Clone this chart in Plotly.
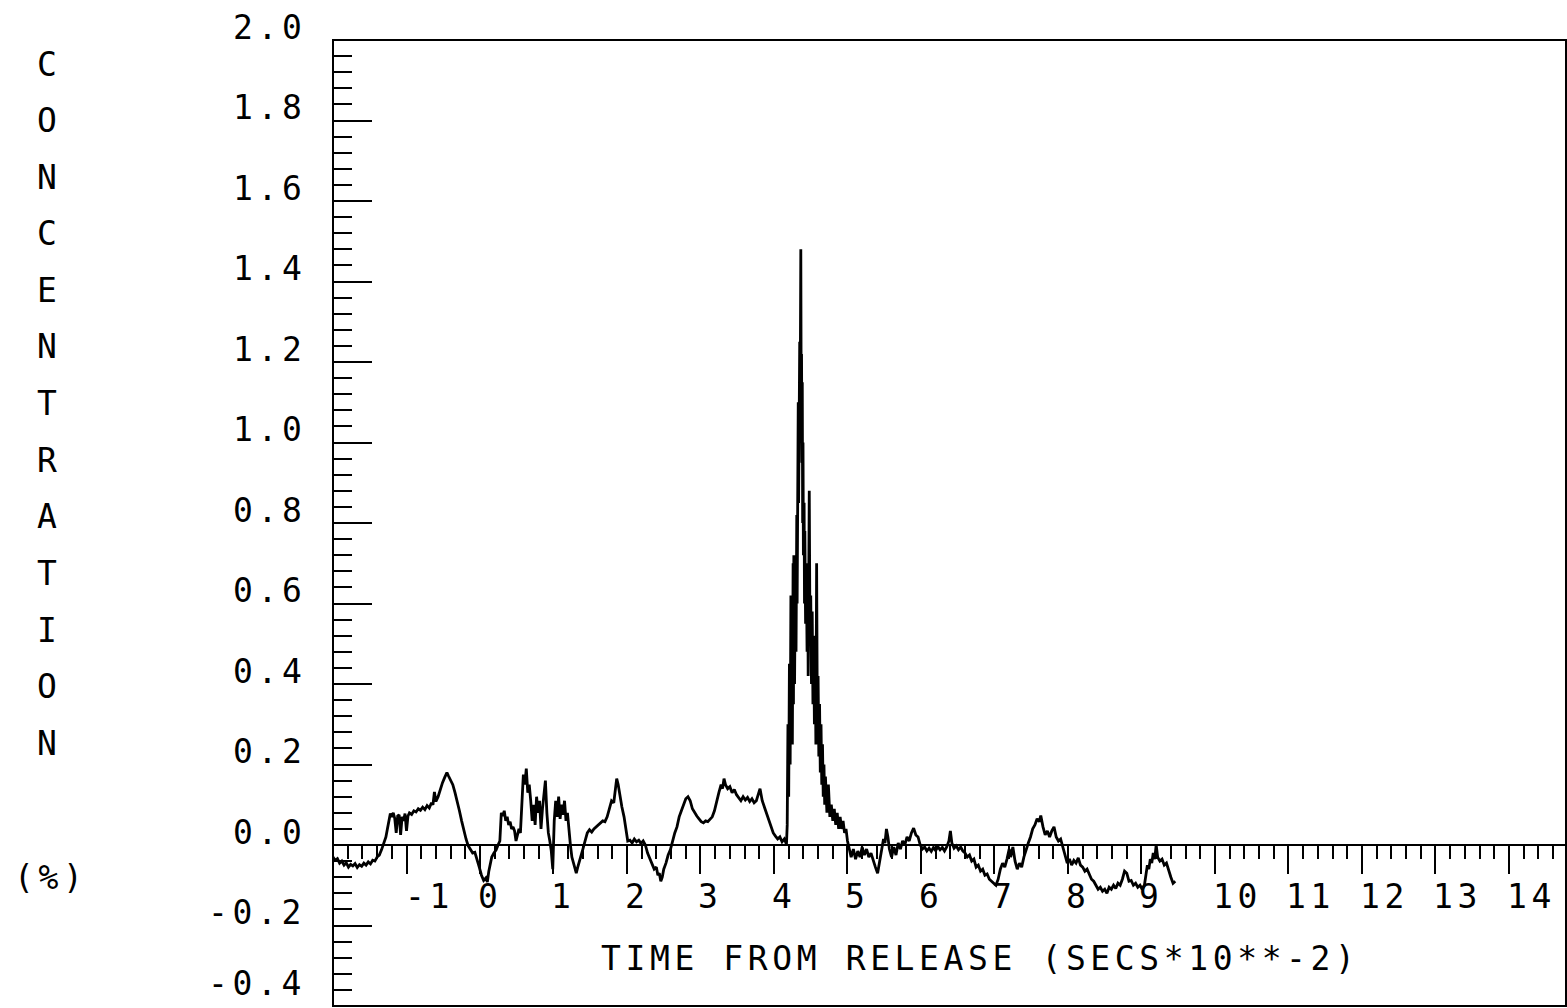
import plotly.graph_objects as go

# Concentration trace: time from release (s * 10**-2) and concentration (%)
time_s = [
    -2.00, -1.97, -1.94, -1.91, -1.88, -1.85, -1.82, -1.79, -1.76, -1.73,
    -1.70, -1.67, -1.64, -1.61, -1.58, -1.55, -1.52, -1.49, -1.46, -1.43,
    -1.40, -1.37, -1.34, -1.31, -1.28, -1.26, -1.24, -1.22, -1.20, -1.18,
    -1.16, -1.14, -1.12, -1.10, -1.08, -1.06, -1.04, -1.02, -1.00, -0.98,
    -0.96, -0.93, -0.90, -0.87, -0.84, -0.81, -0.78, -0.75, -0.72, -0.69,
    -0.66, -0.64, -0.62, -0.60, -0.57, -0.54, -0.51, -0.48, -0.45, -0.43,
    -0.40, -0.37, -0.34, -0.31, -0.28, -0.25, -0.22, -0.19, -0.16, -0.13,
    -0.10, -0.07, -0.04, -0.01, 0.02, 0.05, 0.08, 0.10, 0.12, 0.14,
    0.16, 0.19, 0.22, 0.25, 0.27, 0.29, 0.31, 0.33, 0.35, 0.37,
    0.39, 0.41, 0.43, 0.45, 0.47, 0.49, 0.51, 0.53, 0.55, 0.57,
    0.59, 0.61, 0.63, 0.65, 0.67, 0.69, 0.71, 0.73, 0.75, 0.77,
    0.79, 0.81, 0.83, 0.85, 0.87, 0.89, 0.91, 0.93, 0.95, 0.97,
    0.99, 1.01, 1.03, 1.05, 1.07, 1.09, 1.11, 1.13, 1.15, 1.17,
    1.19, 1.21, 1.23, 1.25, 1.27, 1.29, 1.31, 1.33, 1.35, 1.37,
    1.40, 1.43, 1.46, 1.49, 1.52, 1.55, 1.58, 1.61, 1.64, 1.67,
    1.70, 1.73, 1.76, 1.79, 1.82, 1.84, 1.86, 1.88, 1.90, 1.93,
    1.96, 1.99, 2.01, 2.04, 2.07, 2.10, 2.13, 2.16, 2.19, 2.22,
    2.25, 2.28, 2.31, 2.34, 2.37, 2.40, 2.42, 2.44, 2.46, 2.48,
    2.50, 2.53, 2.56, 2.59, 2.62, 2.65, 2.68, 2.71, 2.74, 2.77,
    2.80, 2.83, 2.86, 2.89, 2.92, 2.95, 2.98, 3.01, 3.04, 3.07,
    3.10, 3.13, 3.16, 3.19, 3.22, 3.25, 3.28, 3.30, 3.32, 3.34,
    3.37, 3.40, 3.43, 3.46, 3.49, 3.52, 3.55, 3.58, 3.61, 3.64,
    3.67, 3.70, 3.73, 3.76, 3.79, 3.81, 3.84, 3.87, 3.90, 3.93,
    3.96, 3.99, 4.02, 4.05, 4.08, 4.11, 4.14, 4.17,
    4.18, 4.19, 4.20, 4.21, 4.22, 4.23, 4.235, 4.24, 4.25, 4.26,
    4.265, 4.27, 4.28, 4.29, 4.30, 4.31, 4.315, 4.32, 4.325, 4.33,
    4.335, 4.34, 4.345, 4.35, 4.355, 4.36, 4.365, 4.37, 4.375, 4.38,
    4.385, 4.39, 4.395, 4.40, 4.41, 4.415, 4.42, 4.43, 4.44, 4.45,
    4.46, 4.465, 4.47, 4.48, 4.49, 4.50, 4.51, 4.52, 4.53, 4.54,
    4.55, 4.56, 4.57, 4.58, 4.59, 4.60, 4.61, 4.62, 4.63, 4.64,
    4.65, 4.66, 4.67, 4.68, 4.69, 4.70, 4.72, 4.74, 4.76, 4.78,
    4.80, 4.82, 4.84, 4.86, 4.88, 4.90, 4.92, 4.94, 4.96, 4.98,
    5.00, 5.02, 5.05, 5.08, 5.11, 5.14, 5.17, 5.20, 5.23, 5.26,
    5.29, 5.32, 5.35, 5.38, 5.41, 5.43, 5.45, 5.47, 5.49, 5.51,
    5.53, 5.55, 5.57, 5.60, 5.63, 5.66, 5.69, 5.72, 5.75, 5.78,
    5.81, 5.84, 5.87, 5.90, 5.93, 5.96, 5.99, 6.02, 6.05, 6.08,
    6.11, 6.14, 6.17, 6.20, 6.23, 6.26, 6.29, 6.32, 6.35, 6.38,
    6.40, 6.42, 6.45, 6.48, 6.51, 6.54, 6.57, 6.60, 6.63, 6.66,
    6.69, 6.72, 6.75, 6.78, 6.81, 6.84, 6.87, 6.90, 6.93, 6.96,
    6.99, 7.02, 7.05, 7.08, 7.11, 7.14, 7.17, 7.20, 7.22, 7.25,
    7.28, 7.31, 7.34, 7.37, 7.40, 7.43, 7.46, 7.49, 7.52, 7.55,
    7.58, 7.61, 7.63, 7.66, 7.69, 7.72, 7.75, 7.78, 7.81, 7.84,
    7.87, 7.90, 7.93, 7.96, 7.99, 8.02, 8.05, 8.08, 8.11, 8.14,
    8.17, 8.20, 8.23, 8.26, 8.29, 8.32, 8.35, 8.38, 8.41, 8.44,
    8.47, 8.50, 8.53, 8.56, 8.59, 8.62, 8.65, 8.68, 8.71, 8.74,
    8.77, 8.80, 8.83, 8.86, 8.89, 8.92, 8.95, 8.98, 9.01, 9.04,
    9.06, 9.08, 9.10, 9.12, 9.14, 9.16, 9.18, 9.20, 9.22, 9.25,
    9.28, 9.31, 9.34, 9.37, 9.40, 9.43, 9.46,
]

conc_pct = [
    -0.030, -0.038, -0.034, -0.045, -0.040, -0.050, -0.044, -0.055, -0.048, -0.052,
    -0.046, -0.056, -0.049, -0.053, -0.045, -0.050, -0.042, -0.047, -0.038, -0.040,
    -0.030, -0.025, -0.012, 0.002, 0.020, 0.040, 0.062, 0.078, 0.070, 0.080,
    0.066, 0.030, 0.072, 0.075, 0.025, 0.070, 0.060, 0.078, 0.035, 0.072,
    0.080, 0.076, 0.085, 0.082, 0.090, 0.086, 0.094, 0.088, 0.098, 0.092,
    0.105, 0.100, 0.132, 0.108, 0.120, 0.140, 0.155, 0.168, 0.180, 0.172,
    0.160, 0.150, 0.130, 0.110, 0.085, 0.060, 0.035, 0.015, -0.002, -0.012,
    -0.020, -0.018, -0.035, -0.055, -0.075, -0.088, -0.082, -0.092, -0.065, -0.045,
    -0.030, -0.020, -0.012, 0.002, 0.010, 0.080, 0.072, 0.085, 0.060, 0.070,
    0.050, 0.058, 0.040, 0.045, 0.035, 0.010, 0.028, 0.040, 0.030, 0.100,
    0.175, 0.150, 0.190, 0.130, 0.150, 0.110, 0.060, 0.100, 0.050, 0.120,
    0.080, 0.110, 0.040, 0.090, 0.130, 0.160, 0.080, 0.030, 0.010, -0.015,
    -0.060, 0.060, 0.110, 0.070, 0.120, 0.065, 0.100, 0.075, 0.110, 0.060,
    0.080, 0.030, 0.000, -0.030, -0.045, -0.060, -0.070, -0.055, -0.040, -0.030,
    -0.010, 0.010, 0.030, 0.038, 0.032, 0.040, 0.045, 0.050, 0.055, 0.060,
    0.058, 0.070, 0.090, 0.110, 0.105, 0.130, 0.165, 0.150, 0.125, 0.095,
    0.070, 0.030, 0.010, 0.012, 0.005, 0.015, 0.008, 0.012, 0.004, 0.010,
    0.000, -0.020, -0.035, -0.045, -0.060, -0.055, -0.075, -0.070, -0.090, -0.080,
    -0.060, -0.045, -0.025, -0.012, 0.010, 0.030, 0.045, 0.070, 0.085, 0.100,
    0.115, 0.120, 0.110, 0.090, 0.080, 0.072, 0.065, 0.058, 0.055, 0.060,
    0.058, 0.065, 0.070, 0.085, 0.110, 0.130, 0.150, 0.140, 0.165, 0.150,
    0.140, 0.145, 0.130, 0.138, 0.125, 0.118, 0.110, 0.120, 0.112, 0.118,
    0.108, 0.115, 0.105, 0.110, 0.130, 0.140, 0.110, 0.095, 0.075, 0.065,
    0.045, 0.030, 0.022, 0.015, 0.020, 0.008, 0.015, 0.002,
    0.05, 0.30, 0.12, 0.45, 0.20, 0.62, 0.30, 0.55, 0.25, 0.70,
    0.35, 0.72, 0.40, 0.68, 0.48, 0.82, 0.60, 0.95, 0.70, 1.10,
    0.85, 1.20, 0.95, 1.25, 1.05, 1.18, 1.48, 1.10, 1.22, 0.95,
    1.15, 0.80, 1.00, 0.72, 0.85, 0.60, 0.78, 0.55, 0.70, 0.48,
    0.65, 0.42, 0.60, 0.88, 0.50, 0.62, 0.40, 0.58, 0.35, 0.52,
    0.30, 0.48, 0.25, 0.70, 0.30, 0.42, 0.22, 0.35, 0.18, 0.30,
    0.15, 0.25, 0.12, 0.20, 0.10, 0.17, 0.08, 0.15, 0.07, 0.10,
    0.06, 0.09, 0.05, 0.08, 0.04, 0.07, 0.04, 0.06, 0.03, 0.04,
    0.010, -0.010, -0.030, -0.010, -0.035, -0.015, -0.030, -0.005, -0.025, -0.010,
    -0.030, -0.020, -0.040, -0.055, -0.070, -0.050, -0.030, -0.010, 0.015, 0.005,
    0.040, 0.020, -0.010, -0.030, -0.005, -0.025, 0.005, -0.010, 0.010, 0.000,
    0.020, 0.010, 0.030, 0.042, 0.025, 0.020, 0.000, -0.010, -0.005, -0.015,
    -0.008, -0.016, -0.006, -0.014, -0.004, -0.012, -0.006, -0.015, -0.005, 0.010,
    0.035, 0.005, -0.008, -0.002, -0.012, -0.005, -0.015, -0.020, -0.030, -0.025,
    -0.040, -0.035, -0.055, -0.050, -0.065, -0.060, -0.075, -0.072, -0.085, -0.090,
    -0.095, -0.100, -0.085, -0.060, -0.045, -0.055, -0.035, -0.010, -0.030, -0.005,
    -0.040, -0.060, -0.045, -0.055, -0.030, -0.010, 0.005, 0.020, 0.040, 0.050,
    0.065, 0.058, 0.073, 0.045, 0.025, 0.035, 0.020, 0.035, 0.045, 0.020,
    0.010, 0.015, -0.005, -0.020, -0.045, -0.035, -0.050, -0.038, -0.045, -0.032,
    -0.050, -0.055, -0.065, -0.060, -0.075, -0.085, -0.090, -0.100, -0.110, -0.105,
    -0.115, -0.110, -0.120, -0.105, -0.110, -0.100, -0.108, -0.095, -0.100, -0.085,
    -0.065, -0.070, -0.090, -0.088, -0.100, -0.095, -0.105, -0.100, -0.110, -0.100,
    -0.070, -0.050, -0.060, -0.035, -0.045, -0.020, -0.035, 0.000, -0.030, -0.040,
    -0.035, -0.050, -0.045, -0.065, -0.080, -0.095, -0.090,
]

# Axis labelling
x_tick_values = [-1, 0, 1, 2, 3, 4, 5, 6, 7, 8, 9, 10, 11, 12, 13, 14]
x_tick_labels = ["-1", "0", "1", "2", "3", "4", "5", "6", "7", "8", "9",
                 "10", "11", "12", "13", "14"]
y_tick_values = [2.0, 1.8, 1.6, 1.4, 1.2, 1.0, 0.8, 0.6, 0.4, 0.2, 0.0, -0.2, -0.4]
y_tick_labels = ["2.0", "1.8", "1.6", "1.4", "1.2", "1.0", "0.8", "0.6", "0.4",
                 "0.2", "0.0", "-0.2", "-0.4"]
y_title_letters = ["C", "O", "N", "C", "E", "N", "T", "R", "A", "T", "I", "O", "N"]
y_title_unit = "(%)"
x_title = "TIME FROM RELEASE (SECS*10**-2)"

# Page geometry
W, H = 1567, 1008
ML, MR, MT, MB = 333, 1, 40, 2
X_RANGE = [-2.0, 14.776]
Y_RANGE = [-0.4, 2.0]
PLOT_H = H - MT - MB
PLOT_W = W - ML - MR
PX_PER_UNIT_Y = PLOT_H / (Y_RANGE[1] - Y_RANGE[0])

FONT = "DejaVu Sans Mono"
FSIZE = 33
SPACING = 4.6
INK = "black"


def spaced(s):
    return f"<span style='letter-spacing:{SPACING}px'>{s}</span>"


def paper_x(px):
    return (px - ML) / PLOT_W


def paper_y(py):
    return (H - MB - py) / PLOT_H


font = dict(family=FONT, size=FSIZE, color=INK)

fig = go.Figure()
fig.add_trace(go.Scatter(
    x=time_s, y=conc_pct, mode="lines",
    line=dict(color=INK, width=2.8),
    hoverinfo="skip", showlegend=False,
))

annotations = []
# x tick labels, hung just right of each tick below the zero line
for v, lab in zip(x_tick_values, x_tick_labels):
    annotations.append(dict(
        x=v, y=0, xref="x", yref="y", text=spaced(lab), showarrow=False,
        xanchor="left", yanchor="middle", xshift=-4, yshift=-51, font=font,
    ))
# y tick labels, sitting slightly above their ticks (the lowest one kept
# inside the page)
for v, lab in zip(y_tick_values, y_tick_labels):
    below = (v - Y_RANGE[0]) * PX_PER_UNIT_Y + MB
    shift = max(13, 25 - below)
    annotations.append(dict(
        x=0, y=v, xref="paper", yref="y", text=spaced(lab), showarrow=False,
        xanchor="right", yanchor="middle", xshift=-25, yshift=shift, font=font,
    ))
# vertical, letter-by-letter y title
for i, ch in enumerate(y_title_letters):
    annotations.append(dict(
        x=paper_x(47), y=paper_y(64 + i * 56.6), xref="paper", yref="paper",
        text=ch, showarrow=False, xanchor="center", yanchor="middle", font=font,
    ))
annotations.append(dict(
    x=paper_x(50), y=paper_y(877), xref="paper", yref="paper",
    text=spaced(y_title_unit), showarrow=False, xanchor="center",
    yanchor="middle", font=font,
))
annotations.append(dict(
    x=paper_x(980), y=paper_y(958), xref="paper", yref="paper",
    text=spaced(x_title), showarrow=False, xanchor="center",
    yanchor="middle", font=font,
))

zero_pos = (0 - Y_RANGE[0]) / (Y_RANGE[1] - Y_RANGE[0])

fig.update_layout(
    width=W, height=H,
    margin=dict(l=ML, r=MR, t=MT, b=MB, pad=0),
    paper_bgcolor="white", plot_bgcolor="white",
    showlegend=False,
    annotations=annotations,
    xaxis=dict(
        range=X_RANGE, anchor="free", position=zero_pos,
        showline=True, linecolor=INK, linewidth=2,
        showgrid=False, zeroline=False, showticklabels=False,
        ticks="outside", tickmode="linear", tick0=0, dtick=1,
        ticklen=28, tickwidth=2, tickcolor=INK,
        minor=dict(ticks="outside", tickmode="linear", tick0=0, dtick=0.2,
                   ticklen=13, tickwidth=1.5, tickcolor=INK, showgrid=False),
    ),
    xaxis2=dict(
        range=X_RANGE, overlaying="x", matches="x", side="top", anchor="y",
        showline=True, linecolor=INK, linewidth=2,
        showgrid=False, zeroline=False, showticklabels=False,
        ticks="inside", tickmode="linear", tick0=0, dtick=1,
        ticklen=26, tickwidth=1.5, tickcolor=INK,
        minor=dict(ticks="inside", tickmode="linear", tick0=0, dtick=0.2,
                   ticklen=12, tickwidth=1.2, tickcolor=INK, showgrid=False),
    ),
    yaxis=dict(
        range=Y_RANGE, anchor="free", position=0,
        showline=True, linecolor=INK, linewidth=2,
        showgrid=False, zeroline=False, showticklabels=False,
        ticks="inside", tickmode="linear", tick0=0, dtick=0.2,
        ticklen=38, tickwidth=2, tickcolor=INK,
        minor=dict(ticks="inside", tickmode="linear", tick0=0, dtick=0.04,
                   ticklen=18, tickwidth=1.5, tickcolor=INK, showgrid=False),
    ),
    yaxis2=dict(
        range=Y_RANGE, overlaying="y", matches="y", side="right",
        anchor="free", position=1,
        showline=True, linecolor=INK, linewidth=2,
        showgrid=False, zeroline=False, showticklabels=False,
        ticks="inside", tickmode="linear", tick0=0, dtick=0.2,
        ticklen=22, tickwidth=1.5, tickcolor=INK,
        minor=dict(ticks="inside", tickmode="linear", tick0=0, dtick=0.04,
                   ticklen=6, tickwidth=1.2, tickcolor=INK, showgrid=False),
    ),
    shapes=[dict(type="rect", xref="paper", yref="paper", x0=0, x1=1, y0=0, y1=1,
                 line=dict(color=INK, width=2), layer="above")],
)

fig.write_html("out.html")
